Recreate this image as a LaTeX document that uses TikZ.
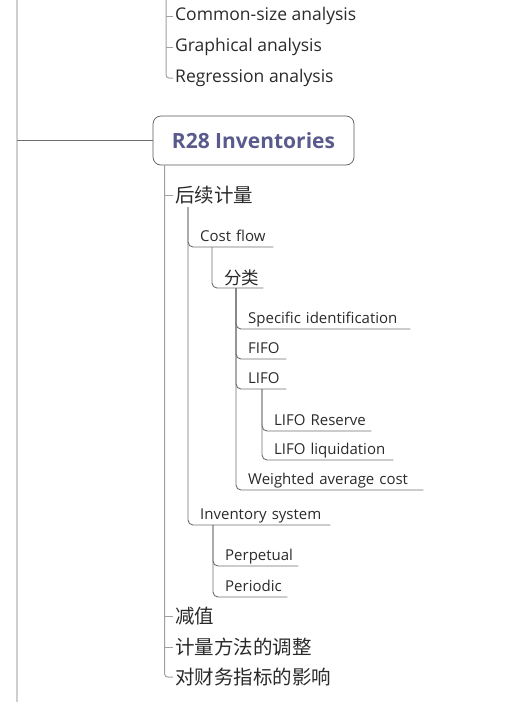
\documentclass[tikz,border=0pt]{standalone}
\usepackage{fontspec}
\setmainfont{Open Sans}
\newfontfamily\cjk{Noto Sans CJK SC}
\usepackage{tikz}

\definecolor{trunkgray}{HTML}{CFCFCF}
\definecolor{twiggray}{HTML}{A0A0A0}
\definecolor{branchgray}{HTML}{6E6E6E}
\definecolor{titlepurple}{HTML}{5A5A8C}
\definecolor{textgray}{HTML}{2A2A2A}

\tikzset{
  trunk/.style={draw=trunkgray, line width=1.2pt},
  twig/.style={draw=twiggray, line width=1pt, rounded corners=3pt},
  branch/.style={draw=branchgray, line width=0.9pt, rounded corners=5pt},
  topic/.style={anchor=west, inner sep=0pt, text=textgray, font=\fontsize{17.5}{20}\selectfont},
  cntopic/.style={anchor=west, inner sep=0pt, text=textgray, font=\cjk\fontsize{19.5}{22}\selectfont},
  sub/.style={anchor=south west, inner xsep=0pt, inner ysep=0pt, align=left,
    text depth=5pt, text=textgray, font=\fontsize{15}{18}\selectfont},
  cnsub/.style={sub, text depth=3pt, font=\cjk\fontsize{17.5}{20}\selectfont},
  titlebox/.style={draw=black!65, line width=0.7pt, rounded corners=8pt,
    minimum width=201pt, minimum height=49pt, text=titlepurple,
    font=\bfseries\fontsize{21}{25}\selectfont}
}

\begin{document}
\begin{tikzpicture}[x=1pt, y=-1pt]
        \useasboundingbox (0,0) rectangle (511,702);

        % Draw trunk and title
        \coordinate (lt) at (17,0);
        \coordinate (lb) at (17,702);
        \coordinate (top) at (166,0);
        \node[titlebox] (r28) at (253.5,140.5) {R28 Inventories};

        % Draw upper topics
        \node[topic] (cs) at (175,16) {Common-size analysis};
        \node[topic] (gr) at (175,47) {Graphical analysis};
        \node[topic] (rg) at (175,78) {Regression analysis};

        % Draw topics of R28
        \node[cntopic] (hx) at (175,195) {后续计量};
        \node[cntopic] (jz) at (175,616) {减值};
        \node[cntopic] (tz) at (175,647) {计量方法的调整};
        \node[cntopic] (yx) at (175,677) {对财务指标的影响};

        % Draw subtopics
        \node[sub, text width=73pt] (cf) at (200,247) {Cost flow};
        \node[cnsub, text width=39pt] (fl) at (224,288) {分类};
        \node[sub, text width=162pt] (si) at (248,329) {Specific identification};
        \node[sub, text width=38pt] (fifo) at (248,359) {FIFO};
        \node[sub, text width=38pt] (lifo) at (248,389) {LIFO};
        \node[sub, text width=97pt] (lr) at (274,431) {LIFO Reserve};
        \node[sub, text width=119pt] (ll) at (274,460) {LIFO liquidation};
        \node[sub, text width=175pt] (wac) at (248,490) {Weighted average cost};
        \node[sub, text width=130pt] (is) at (200,525) {Inventory system};
        \node[sub, text width=73pt] (pp) at (225,566) {Perpetual};
        \node[sub, text width=62pt] (pd) at (225,597) {Periodic};

        % Draw trunk edges
        \draw[trunk] (lt) -- (lb);
        \draw[draw=branchgray, line width=0.9pt] (lt |- r28.west) -- (r28.west);

        \draw[twig] (top) |- ([xshift=-2pt]rg.west);
        \draw[twig] (top |- cs.west) -- ([xshift=-2pt]cs.west);
        \draw[twig] (top |- gr.west) -- ([xshift=-2pt]gr.west);

        \draw[twig] ([xshift=12pt]r28.south west) |- ([xshift=-2pt]yx.west);
        \draw[twig] ([xshift=12pt]r28.south west |- hx.west) -- ([xshift=-2pt]hx.west);
        \draw[twig] ([xshift=12pt]r28.south west |- jz.west) -- ([xshift=-2pt]jz.west);
        \draw[twig] ([xshift=12pt]r28.south west |- tz.west) -- ([xshift=-2pt]tz.west);

        % Draw branch edges
        \draw[branch] ([xshift=13pt,yshift=-3pt]hx.south west) |- (cf.south east);
        \draw[branch] ([xshift=13pt,yshift=-3pt]hx.south west) |- (is.south east);

        \draw[branch] ([xshift=12pt]cf.south west) |- (fl.south east);

        \draw[branch] ([xshift=12pt]fl.south west) |- (si.south east);
        \draw[branch] ([xshift=12pt]fl.south west) |- (fifo.south east);
        \draw[branch] ([xshift=12pt]fl.south west) |- (lifo.south east);
        \draw[branch] ([xshift=12pt]fl.south west) |- (wac.south east);

        \draw[branch] ([xshift=14pt]lifo.south west) |- (lr.south east);
        \draw[branch] ([xshift=14pt]lifo.south west) |- (ll.south east);

        \draw[branch] ([xshift=13pt]is.south west) |- (pp.south east);
        \draw[branch] ([xshift=13pt]is.south west) |- (pd.south east);
    \end{tikzpicture}
\end{document}
